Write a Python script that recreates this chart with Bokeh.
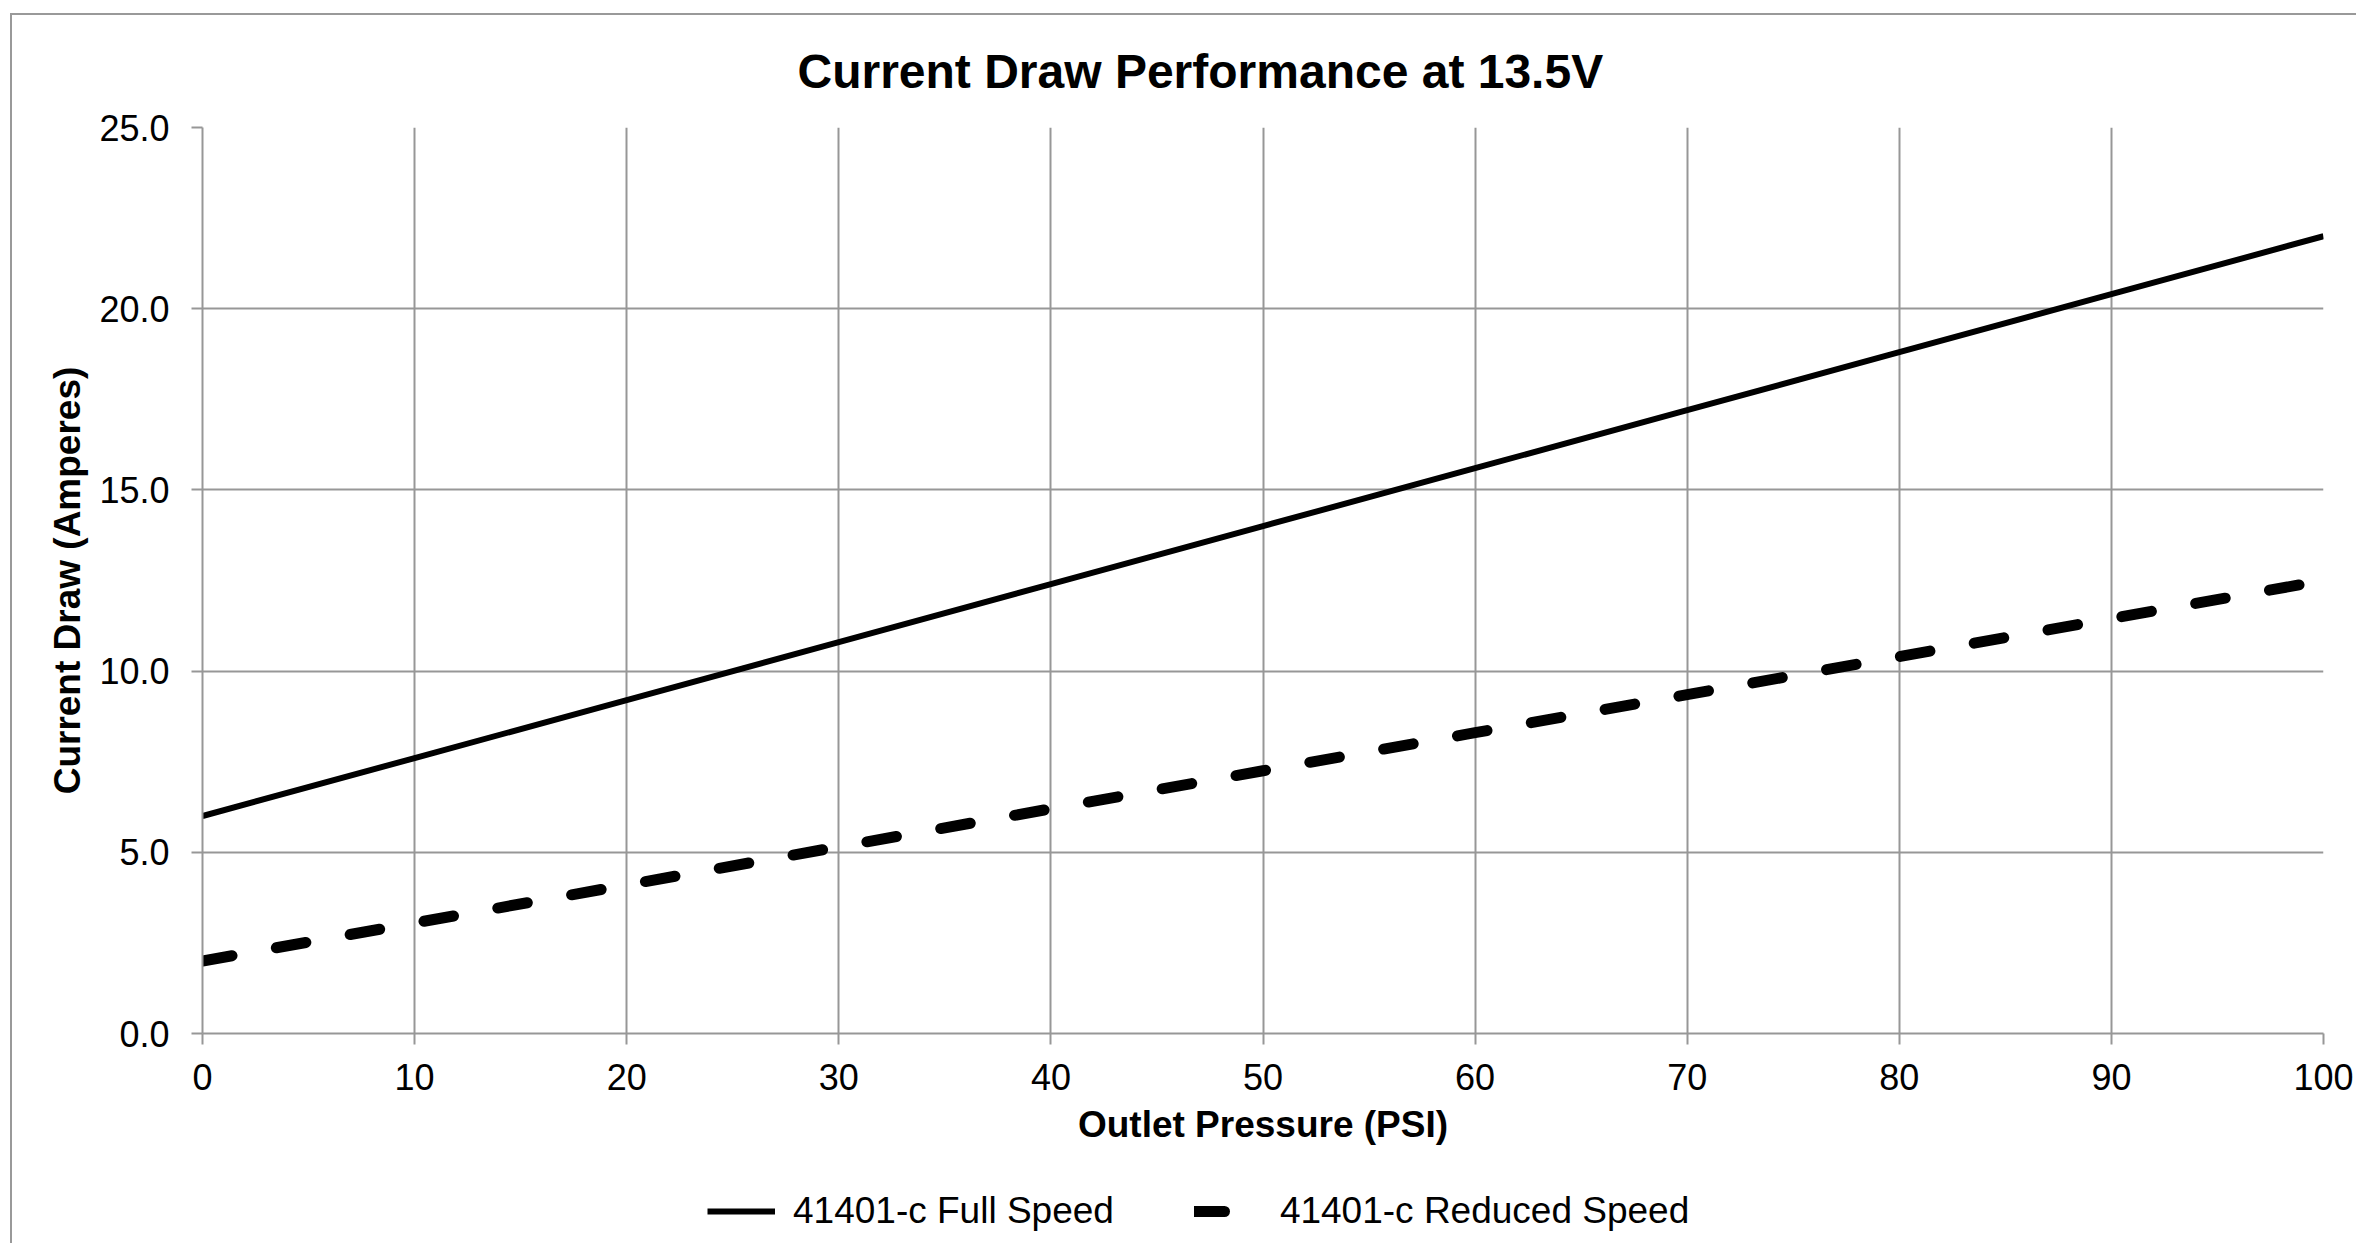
from bokeh.plotting import figure
from bokeh.layouts import column
from bokeh.models import Range1d, FixedTicker, NumeralTickFormatter, Legend
from bokeh.embed import file_html
from bokeh.resources import INLINE

# ---- data ----
pressure_psi = [0, 10, 20, 30, 40, 50, 60, 70, 80, 90, 100]
full_speed_amps = [6.0, 7.6, 9.2, 10.8, 12.4, 14.0, 15.6, 17.2, 18.8, 20.4, 22.0]
reduced_speed_amps = [2.0, 3.05, 4.1, 5.15, 6.2, 7.25, 8.3, 9.35, 10.4, 11.45, 12.5]
series_names = ["41401-c Full Speed", "41401-c Reduced Speed"]
x_ticks = [0, 10, 20, 30, 40, 50, 60, 70, 80, 90, 100]
y_ticks = [0, 5, 10, 15, 20, 25]
title_text = "Current Draw Performance at 13.5V"
x_label = "Outlet Pressure (PSI)"
y_label = "Current Draw (Amperes)"

FONT = "Liberation Sans"
GRID = "#979797"
BORDER = "2px solid #999999"

full_style = dict(line_color="black", line_width=6)
reduced_style = dict(line_color="black", line_width=11, line_dash="30 45", line_cap="round")

# ---- main chart ----
p = figure(width=2346, height=1160, output_backend="svg", toolbar_location=None,
           x_range=Range1d(0, 100), y_range=Range1d(0, 25),
           min_border_left=190, min_border_right=35,
           min_border_top=112, min_border_bottom=142,
           title=title_text)
p.styles = {"margin-left": "10px", "margin-top": "13px",
            "border-left": BORDER, "border-top": BORDER}
p.outline_line_color = None
p.background_fill_color = "white"
p.border_fill_color = "white"

p.title.text_font = FONT
p.title.text_font_size = "48px"
p.title.text_font_style = "bold"
p.title.text_color = "black"
p.title.align = "left"
p.title.offset = 595
p.title.vertical_align = "top"
p.title.standoff = 56

p.line(pressure_psi, full_speed_amps, **full_style)
p.line(pressure_psi, reduced_speed_amps, **reduced_style)

for ax in (p.xaxis[0], p.yaxis[0]):
    ax.axis_line_color = GRID
    ax.axis_line_width = 2
    ax.major_tick_line_color = GRID
    ax.major_tick_line_width = 2
    ax.major_tick_in = 0
    ax.major_tick_out = 11
    ax.minor_tick_line_color = None
    ax.major_label_text_font = FONT
    ax.major_label_text_font_size = "36px"
    ax.major_label_text_color = "black"
    ax.axis_label_text_font = FONT
    ax.axis_label_text_font_size = "37px"
    ax.axis_label_text_font_style = "bold"
    ax.axis_label_text_color = "black"

p.xaxis.ticker = FixedTicker(ticks=x_ticks)
p.yaxis.ticker = FixedTicker(ticks=y_ticks)
p.yaxis.formatter = NumeralTickFormatter(format="0.0")
p.xaxis.axis_label = x_label
p.yaxis.axis_label = y_label
p.xaxis.major_label_standoff = 19
p.yaxis.major_label_standoff = 22
p.xaxis.axis_label_standoff = 11
p.yaxis.axis_label_standoff = 8

p.xgrid.ticker = FixedTicker(ticks=x_ticks)
p.ygrid.ticker = FixedTicker(ticks=y_ticks)
for g in (p.xgrid[0], p.ygrid[0]):
    g.grid_line_color = GRID
    g.grid_line_width = 2

# ---- legend strip below the chart (its lines lie outside its own view) ----
q = figure(width=2346, height=70, output_backend="svg", toolbar_location=None,
           x_range=Range1d(0, 100), y_range=Range1d(100, 200),
           x_axis_location=None, y_axis_location=None,
           min_border_left=0, min_border_right=0, min_border_top=0, min_border_bottom=0)
q.styles = {"margin-left": "10px", "border-left": BORDER}
q.outline_line_color = None
q.xgrid.visible = False
q.ygrid.visible = False
q.background_fill_color = "white"
q.border_fill_color = "white"
q_full = q.line(pressure_psi, full_speed_amps, **full_style)
q_red = q.line(pressure_psi, reduced_speed_amps, **reduced_style)

lg = Legend(items=[(series_names[0], [q_full]), (series_names[1], [q_red])],
            orientation="horizontal", location=(505, 11))
lg.padding = 0
lg.margin = 0
lg.border_line_color = None
lg.background_fill_alpha = 0
lg.glyph_width = 68
lg.glyph_height = 40
lg.label_height = 40
lg.label_standoff = 18
lg.spacing = 80
lg.label_text_font = FONT
lg.label_text_font_size = "37px"
lg.label_text_color = "black"
q.add_layout(lg, "center")

layout = column(p, q, spacing=0)
open("out.html", "w").write(file_html(layout, INLINE))
